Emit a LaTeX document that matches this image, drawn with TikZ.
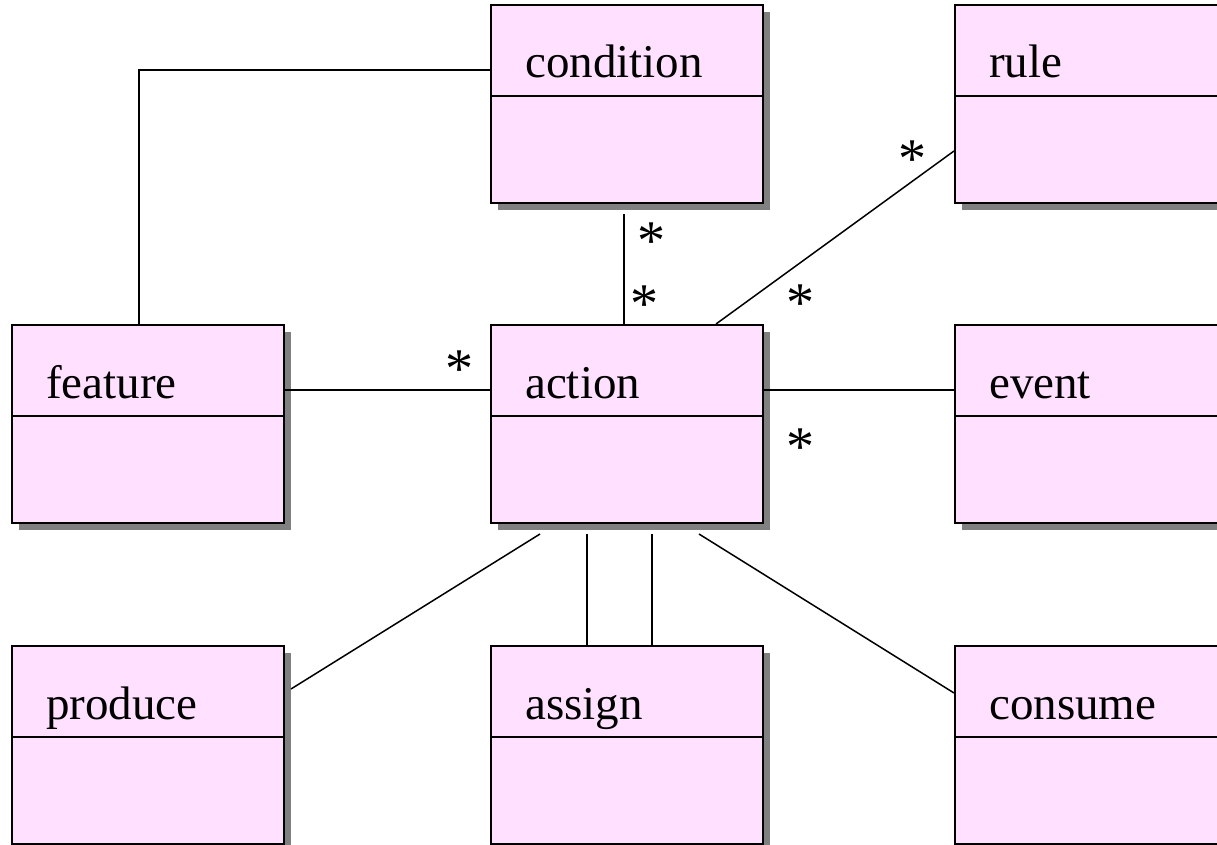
\documentclass[tikz,border=0pt]{standalone}
\usepackage{fontspec}
\setmainfont{Liberation Serif}
\usetikzlibrary{shadows}
\definecolor{boxpink}{RGB}{255,224,255}
\definecolor{shadowgray}{RGB}{128,128,128}
\tikzset{
  umlbox/.style={draw=black, line width=2pt, fill=boxpink, rectangle,
    minimum width=272pt, minimum height=198pt, inner sep=0pt,
    drop shadow={shadow xshift=7pt, shadow yshift=-7pt, fill=shadowgray, opacity=1}},
  title/.style={anchor=base west, inner sep=0pt, font=\fontsize{47}{56}\selectfont},
  mult/.style={anchor=base, inner sep=0pt, font=\fontsize{56}{60}\selectfont},
  conn/.style={line width=1.5pt, black},
  divider/.style={line width=2pt, black}
}
\newcommand{\umlclass}[4]{%
  \node[umlbox] (#1) at (#2,#3) {};
  \draw[divider] ([yshift=-92pt]#1.north west) -- ([yshift=-92pt]#1.north east);
  \node[title] (#1-name) at ([xshift=35pt,yshift=-74pt]#1.north west) {#4};
}
\begin{document}
\begin{tikzpicture}[x=1pt,y=-1pt]
\clip (0,0) rectangle (1217,845);
\fill[white] (0,0) rectangle (1217,845);
\umlclass{condition}{627}{104}{condition}
\umlclass{rule}{1091}{104}{rule}
\umlclass{feature}{148}{424}{feature}
\umlclass{action}{627}{424}{action}
\umlclass{event}{1091}{424}{event}
\umlclass{produce}{148}{745}{produce}
\umlclass{assign}{627}{745}{assign}
\umlclass{consume}{1091}{745}{consume}

\draw[conn] ([xshift=-9pt]feature.north) |- ([yshift=34pt]condition.west);
\draw[conn] ([xshift=-3pt,yshift=-10pt]condition.south) -- ([xshift=-3pt]action.north);
\draw[conn] ([yshift=-47pt]rule.west) -- ([xshift=89pt]action.north);
\draw[conn] ([yshift=34pt]feature.east) -- ([yshift=34pt]action.west);
\draw[conn] ([yshift=34pt]action.east) -- ([yshift=34pt]event.west);
\draw[conn] ([xshift=-87pt,yshift=-10pt]action.south) -- ([xshift=6pt,yshift=56pt]produce.east);
\draw[conn] ([xshift=-40pt,yshift=-10pt]action.south) -- ([xshift=-40pt]assign.north);
\draw[conn] ([xshift=25pt,yshift=-10pt]action.south) -- ([xshift=25pt]assign.north);
\draw[conn] ([xshift=72pt,yshift=-10pt]action.south) -- ([yshift=52pt]consume.west);

\node[mult] (m1) at (651,259) {*};
\node[mult] (m2) at (644,322) {*};
\node[mult] (m3) at (912,178) {*};
\node[mult] (m4) at (800,321) {*};
\node[mult] (m5) at (459,387) {*};
\node[mult] (m6) at (800,465) {*};
\end{tikzpicture}
\end{document}
